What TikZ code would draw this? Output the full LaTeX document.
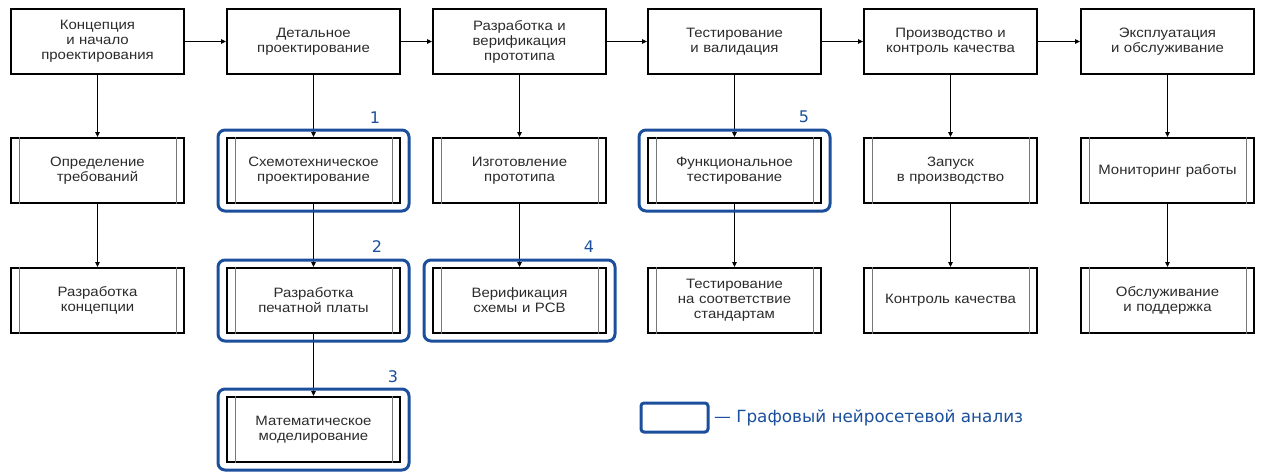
\documentclass[tikz,border=0pt]{standalone}
\usepackage{fontspec}
\setmainfont{Liberation Sans}[FakeStretch=1.1]
\newfontfamily\markfont{DejaVu Sans}
\usetikzlibrary{arrows.meta}
\definecolor{txtgray}{HTML}{2B2B2B}
\definecolor{hlblue}{HTML}{1B4F9C}
\definecolor{rulegray}{HTML}{777777}

\begin{document}
\begin{tikzpicture}[x=1pt,y=-1pt,
  stage/.style={draw=black, line width=2pt, minimum width=173pt, minimum height=65pt,
    text width=165pt, align=center, inner sep=0pt, text=txtgray,
    font=\fontsize{13.6}{15}\selectfont},
  link/.style={line width=1.2pt, -{Triangle[length=5pt,width=4.5pt]}},
  sideline/.style={rulegray, line width=0.9pt},
  hlframe/.style={hlblue, line width=3pt, rounded corners=7pt},
  marker/.style={text=hlblue, font=\markfont\fontsize{16}{16}\selectfont, inner sep=0pt}
]
\useasboundingbox (0,0) rectangle (1262,472);

% main stages
\node[stage] (s1) at (97.5,41.5)  {Концепция\\и начало\\проектирования};
\node[stage] (s2) at (313.5,41.5) {Детальное\\проектирование};
\node[stage] (s3) at (519.5,41.5) {Разработка и\\верификация\\прототипа};
\node[stage] (s4) at (734.5,41.5) {Тестирование\\и валидация};
\node[stage] (s5) at (950.5,41.5) {Производство и\\контроль качества};
\node[stage] (s6) at (1167.5,41.5) {Эксплуатация\\и обслуживание};

% sub-processes
\node[stage] (a1) at (97.5,170.5)  {Определение\\требований};
\node[stage] (a2) at (97.5,300.5)  {Разработка\\концепции};
\node[stage] (b1) at (313.5,170.5) {Схемотехническое\\проектирование};
\node[stage] (b2) at (313.5,300.5) {Разработка\\печатной платы};
\node[stage] (b3) at (313.5,429.5) {Математическое\\моделирование};
\node[stage] (c1) at (519.5,170.5) {Изготовление\\прототипа};
\node[stage] (c2) at (519.5,300.5) {Верификация\\схемы и PCB};
\node[stage] (d1) at (734.5,170.5) {Функциональное\\тестирование};
\node[stage] (d2) at (734.5,300.5) {Тестирование\\на соответствие\\стандартам};
\node[stage] (e1) at (950.5,170.5) {Запуск\\в производство};
\node[stage] (e2) at (950.5,300.5) {Контроль качества};
\node[stage] (f1) at (1167.5,170.5) {Мониторинг работы};
\node[stage] (f2) at (1167.5,300.5) {Обслуживание\\и поддержка};

% side rules of the sub-process boxes
\foreach \n in {a1,a2,b1,b2,b3,c1,c2,d1,d2,e1,e2,f1,f2} {
  \draw[sideline] ([xshift=9pt]\n.north west) -- ([xshift=9pt]\n.south west);
  \draw[sideline] ([xshift=-9pt]\n.north east) -- ([xshift=-9pt]\n.south east);
}

% flow between stages
\draw[link] (s1) -- (s2);
\draw[link] (s2) -- (s3);
\draw[link] (s3) -- (s4);
\draw[link] (s4) -- (s5);
\draw[link] (s5) -- (s6);

% decomposition
\draw[link] (s1) -- (a1);
\draw[link] (a1) -- (a2);
\draw[link] (s2) -- (b1);
\draw[link] (b1) -- (b2);
\draw[link] (b2) -- (b3);
\draw[link] (s3) -- (c1);
\draw[link] (c1) -- (c2);
\draw[link] (s4) -- (d1);
\draw[link] (d1) -- (d2);
\draw[link] (s5) -- (e1);
\draw[link] (e1) -- (e2);
\draw[link] (s6) -- (f1);
\draw[link] (f1) -- (f2);

% graph neural network analysis frames
\foreach \n in {b1,b2,b3,c2,d1} {
  \draw[hlframe] ([shift={(-8pt,7pt)}]\n.north west) rectangle ([shift={(8pt,-7pt)}]\n.south east);
}
\node[marker] (m1) at (375,118) {1};
\node[marker] (m2) at (377,247) {2};
\node[marker] (m3) at (393,377) {3};
\node[marker] (m4) at (589,247) {4};
\node[marker] (m5) at (804,117) {5};

% legend
\draw[hlblue, line width=3pt, rounded corners=3pt] (641,403) rectangle (708,432);
\node[marker, anchor=west, font=\markfont\fontsize{16.8}{17}\selectfont] (legend) at (714,418) {— Графовый нейросетевой анализ};
\end{tikzpicture}
\end{document}
